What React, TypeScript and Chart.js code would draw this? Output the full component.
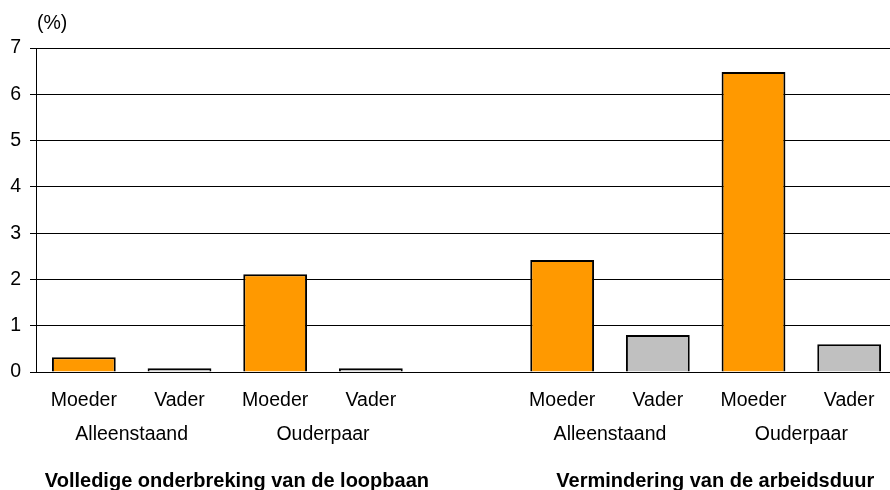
import React, { useEffect, useRef } from "react";
import { Chart, registerables } from "chart.js";

Chart.register(...registerables);

const categories = ["Moeder", "Vader", "Moeder", "Vader", "", "Moeder", "Vader", "Moeder", "Vader"];
const values = [0.32, 0.08, 2.11, 0.08, null, 2.42, 0.8, 6.48, 0.6];
const subgroupLabels = ["Alleenstaand", "Ouderpaar", "Alleenstaand", "Ouderpaar"];
const subgroupStart = [0, 2, 5, 7];
const groupLabels = ["Volledige onderbreking van de loopbaan", "Vermindering van de arbeidsduur"];
const groupStart = [0, 5];
const yTicks = [0, 1, 2, 3, 4, 5, 6, 7];
const unitLabel = "(%)";

const FONT = '"Liberation Sans", Arial, Helvetica, sans-serif';
const ORANGE = "#FF9900";
const GREY = "#C0C0C0";

const labelsPlugin = {
  id: "groupLabels",
  afterDraw(chart: any) {
    const { ctx, chartArea } = chart;
    const x = chart.scales.x;
    ctx.save();
    ctx.fillStyle = "#000";
    ctx.textBaseline = "middle";
    ctx.font = `19.5px ${FONT}`;
    ctx.textAlign = "left";
    ctx.fillText(unitLabel, chartArea.left + 1, chartArea.top - 24);
    ctx.textAlign = "center";
    subgroupLabels.forEach((s, i) => {
      const st = subgroupStart[i];
      const px = (x.getPixelForValue(st) + x.getPixelForValue(st + 1)) / 2;
      ctx.fillText(s, px, chartArea.bottom + 63);
    });
    ctx.font = `bold 20px ${FONT}`;
    groupLabels.forEach((g, i) => {
      const px = x.getPixelForValue(groupStart[i] + 1.6);
      ctx.fillText(g, px, chartArea.bottom + 109);
    });
    ctx.restore();
  },
};

export default function App() {
  const ref = useRef<HTMLCanvasElement>(null);
  useEffect(() => {
    document.body.style.margin = "0";
    document.body.style.overflow = "hidden";
    Chart.defaults.font.family = FONT;
    Chart.defaults.color = "#000";
    const chart = new Chart(ref.current!, {
      type: "bar",
      data: {
        labels: categories,
        datasets: [
          {
            data: values as any,
            backgroundColor: categories.map((c) => (c === "Moeder" ? ORANGE : GREY)),
            borderColor: "#000",
            borderWidth: 2,
            categoryPercentage: 1,
            barPercentage: 0.667,
          },
        ],
      },
      options: {
        responsive: false,
        animation: false,
        layout: { padding: { top: 48, left: 0, right: 0, bottom: 0 } },
        plugins: { legend: { display: false }, tooltip: { enabled: false } },
        scales: {
          x: {
            grid: { display: false, drawTicks: false },
            border: { display: true, color: "#000" },
            ticks: { font: { size: 19.5 }, color: "#000", padding: 17, maxRotation: 0, autoSkip: false },
            afterFit(scale: any) {
              scale.height = 118;
            },
          },
          y: {
            min: 0,
            max: 7,
            afterBuildTicks(scale: any) {
              scale.ticks = yTicks.map((v) => ({ value: v }));
            },
            grid: { color: "#000", lineWidth: 1, drawTicks: true, tickLength: 6 },
            border: { display: true, color: "#000", width: 1 },
            ticks: { font: { size: 19.5 }, color: "#000", padding: 9 },
            afterFit(scale: any) {
              scale.width = 36;
            },
          },
        },
      },
      plugins: [labelsPlugin],
    });
    return () => chart.destroy();
  }, []);
  return (
    <div style={{ position: "absolute", left: 0, top: 0, width: 890, height: 490, overflow: "hidden", background: "#fff" }}>
      <canvas ref={ref} width={897} height={490} style={{ display: "block" }} />
    </div>
  );
}
